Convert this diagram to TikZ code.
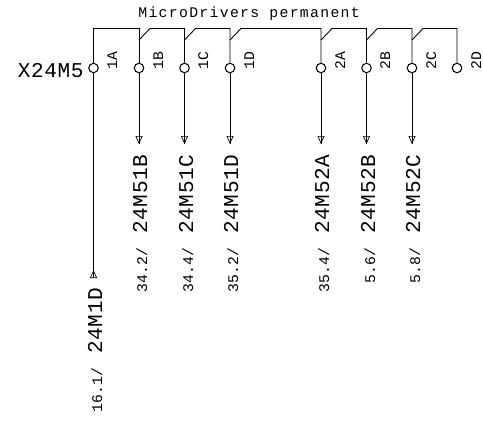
\documentclass[tikz,border=0pt]{standalone}
\usepackage{fontspec}
\setmainfont{Liberation Mono}
\newfontfamily\titlefnt[LetterSpace=9]{Liberation Mono}
\newfontfamily\smallfnt[LetterSpace=2]{Liberation Mono}
\newfontfamily\bigfnt[LetterSpace=3]{Liberation Mono}
\usepackage{tikz}
\usetikzlibrary{arrows.meta, positioning}

\begin{document}
\begin{tikzpicture}[
    x=0.2mm, y=-0.2mm,
    wire/.style={draw, line width=0.5pt},
    downarrow/.style={wire, preaction={draw, -}, -{Triangle[open, length=1.6mm, width=1.4mm, line width=0.4pt]}},
    uparrow/.style={wire, preaction={draw, -}, -{Triangle[open, reversed, length=1.6mm, width=1.4mm, line width=0.4pt]}},
    terminal/.style={circle, draw, line width=0.6pt, inner sep=0pt, minimum size=1.9mm},
    pinlabel/.style={rotate=90, anchor=base west, inner sep=0pt, font=\smallfnt\fontsize{8.4pt}{10pt}\selectfont},
    reflabel/.style={rotate=90, anchor=base east, inner sep=0pt, font=\smallfnt\fontsize{8.4pt}{10pt}\selectfont},
    devlabel/.style={rotate=90, anchor=base west, inner sep=0pt, font=\bigfnt\fontsize{12pt}{14pt}\selectfont},
]
\useasboundingbox (0,0) rectangle (483,422);

% Bus height and knee height
\coordinate (bus) at (0,28.5);
\coordinate (knee) at (0,40);

% Terminals
\node[terminal] (t1A) at (93.5,68) {};
\node[terminal] (t1B) at (139,68) {};
\node[terminal] (t1C) at (184.5,68) {};
\node[terminal] (t1D) at (230,68) {};
\node[terminal] (t2A) at (321,68) {};
\node[terminal] (t2B) at (366.5,68) {};
\node[terminal] (t2C) at (412,68) {};
\node[terminal] (t2D) at (457,68) {};

% Title and connector name
\node[anchor=base west, inner sep=0pt, font=\titlefnt\fontsize{8.4pt}{10pt}\selectfont] (title) at (138,17) {MicroDrivers permanent};
\node[anchor=base east, inner sep=0pt, font=\bigfnt\fontsize{12pt}{14pt}\selectfont] (xname) at (84,77) {X24M5};

% Pin names
\node[pinlabel] (p1A) at (117,70) {1A};
\node[pinlabel] (p1B) at (163,70) {1B};
\node[pinlabel] (p1C) at (208,70) {1C};
\node[pinlabel] (p1D) at (254,70) {1D};
\node[pinlabel] (p2A) at (345,70) {2A};
\node[pinlabel] (p2B) at (390,70) {2B};
\node[pinlabel] (p2C) at (436,70) {2C};
\node[pinlabel] (p2D) at (481,70) {2D};

% Change-over contacts along the top
\draw[wire] (t1A.north) -- (t1A |- bus) -- (t1B |- bus) -- (t1B.north);
\draw[wire] (t1B |- knee) -- ++(11,-11.5) -- (t1C |- bus) -- (t1C.north);
\draw[wire] (t1C |- knee) -- ++(11,-11.5) -- (t1D |- bus) -- (t1D.north);
\draw[wire] (t1D |- knee) -- ++(11,-11.5) -- (t2A |- bus) -- (t2A.north);
\draw[wire] (t2A |- knee) -- ++(11,-11.5) -- (t2B |- bus) -- (t2B.north);
\draw[wire] (t2B |- knee) -- ++(11,-11.5) -- (t2C |- bus) -- (t2C.north);
\draw[wire] (t2C |- knee) -- ++(11,-11.5) -- (t2D |- bus) -- (t2D.north);

% Wire ends
\coordinate (e1A) at (93.5,278);
\coordinate (e1B) at (139,144);
\coordinate (e1C) at (184.5,144);
\coordinate (e1D) at (230,144);
\coordinate (e2A) at (321,144);
\coordinate (e2B) at (366.5,144);
\coordinate (e2C) at (412,144);

\draw[uparrow] (t1A.south) -- (e1A);
\draw[downarrow] (t1B.south) -- (e1B);
\draw[downarrow] (t1C.south) -- (e1C);
\draw[downarrow] (t1D.south) -- (e1D);
\draw[downarrow] (t2A.south) -- (e2A);
\draw[downarrow] (t2B.south) -- (e2B);
\draw[downarrow] (t2C.south) -- (e2C);

% Device names
\node[devlabel] (d1A) at (102,354) {24M1D};
\node[devlabel] (d1B) at (147,234) {24M51B};
\node[devlabel] (d1C) at (193,234) {24M51C};
\node[devlabel] (d1D) at (238,234) {24M51D};
\node[devlabel] (d2A) at (329,234) {24M52A};
\node[devlabel] (d2B) at (375,234) {24M52B};
\node[devlabel] (d2C) at (420,234) {24M52C};

% Cross references
\node[reflabel] (r1A) at (102,367) {16.1/};
\node[reflabel] (r1B) at (147,247) {34.2/};
\node[reflabel] (r1C) at (193,247) {34.4/};
\node[reflabel] (r1D) at (238,247) {35.2/};
\node[reflabel] (r2A) at (329,247) {35.4/};
\node[reflabel] (r2B) at (375,247) {5.6/};
\node[reflabel] (r2C) at (420,247) {5.8/};

\end{tikzpicture}
\end{document}
